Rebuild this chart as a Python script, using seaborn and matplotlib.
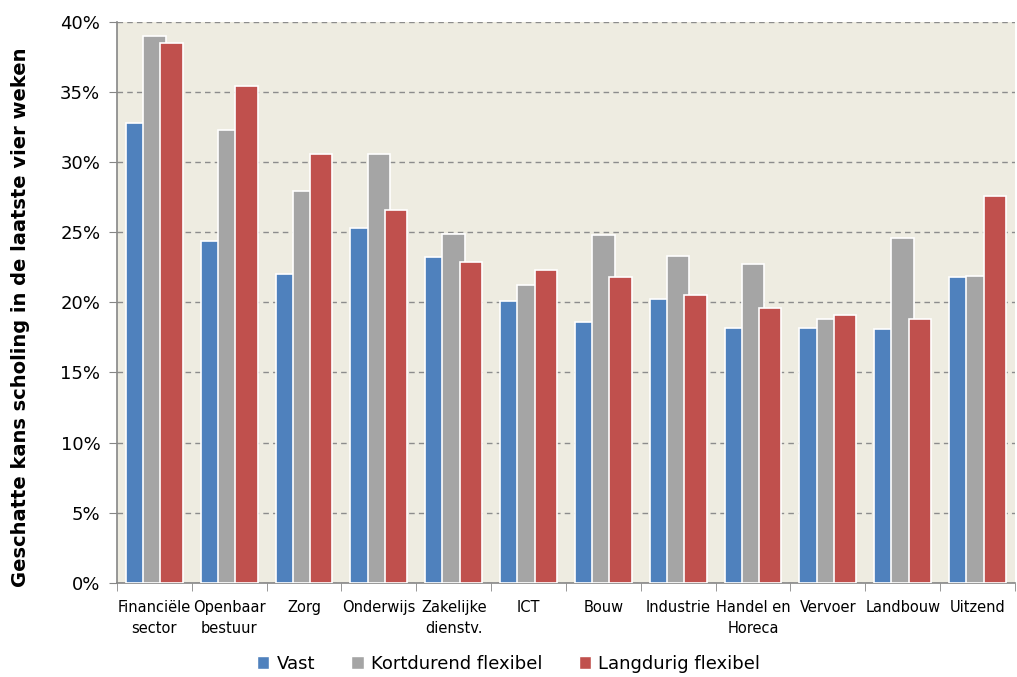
import numpy as np
import pandas as pd
import matplotlib
matplotlib.use("Agg")
import matplotlib.pyplot as plt
import seaborn as sns
from matplotlib.patches import Patch
from matplotlib.ticker import FuncFormatter, MultipleLocator, FixedLocator

# ── Data ────────────────────────────────────────────────────
sectors = ["Financiële\nsector", "Openbaar\nbestuur", "Zorg", "Onderwijs",
           "Zakelijke\ndienstv.", "ICT", "Bouw", "Industrie",
           "Handel en\nHoreca", "Vervoer", "Landbouw", "Uitzend"]
series = ["Vast", "Kortdurend flexibel", "Langdurig flexibel"]
vast = [32.8, 24.4, 22.0, 25.3, 23.2, 20.1, 18.6, 20.2, 18.2, 18.2, 18.1, 21.8]
kortdurend = [39.0, 32.3, 27.9, 30.6, 24.9, 21.2, 24.8, 23.3, 22.7, 18.8, 24.6, 21.9]
langdurig = [38.5, 35.4, 30.6, 26.6, 22.9, 22.3, 21.8, 20.5, 19.6, 19.1, 18.8, 27.6]

COLORS = ["#4F81BD", "#A5A5A5", "#C0504D"]
BG = "#EEECE1"

df = pd.DataFrame({
    "sector": sectors * 3,
    "serie": np.repeat(series, len(sectors)),
    "waarde": vast + kortdurend + langdurig,
})

# ── Style ───────────────────────────────────────────────────
sns.set_style("white")
plt.rcParams["font.family"] = ["DejaVu Sans"]
plt.rcParams.update({"text.color": "black", "axes.labelcolor": "black",
                     "xtick.color": "black", "ytick.color": "black"})

fig = plt.figure(figsize=(10.17, 6.77), dpi=100)
ax = fig.add_axes([0.115, 0.139, 0.883, 0.829])
ax.set_facecolor(BG)

sns.barplot(data=df, x="sector", y="waarde", hue="serie",
            hue_order=series, order=sectors, palette=COLORS, saturation=1,
            width=0.69, edgecolor="white", linewidth=1.2,
            legend=False, ax=ax, zorder=3)

# widen bars so neighbours overlap slightly
for cont in ax.containers:
    for bar in cont:
        cx = bar.get_x() + bar.get_width() / 2
        bar.set_width(0.30)
        bar.set_x(cx - 0.15)

ax.set_xlim(-0.5, len(sectors) - 0.5)
ax.set_ylim(0, 40)
ax.yaxis.set_major_locator(MultipleLocator(5))
ax.yaxis.set_major_formatter(FuncFormatter(lambda v, _: f"{v:.0f}%"))
ax.grid(axis="y", color="#8C8C8C", linestyle=(0, (4, 3)), linewidth=1.0, zorder=0)
ax.set_axisbelow(True)

for s in ["top", "right"]:
    ax.spines[s].set_visible(False)
for s in ["left", "bottom"]:
    ax.spines[s].set_color("#868686")
    ax.spines[s].set_linewidth(1.2)

ax.tick_params(axis="y", which="major", left=True, length=6, color="#868686",
               labelsize=13, pad=6)
ax.tick_params(axis="x", which="major", length=0, labelsize=10.5, pad=12)
for lbl in ax.get_xticklabels():
    lbl.set_linespacing(1.55)
ax.xaxis.set_minor_locator(FixedLocator(np.arange(-0.5, len(sectors), 1)))
ax.tick_params(axis="x", which="minor", bottom=True, length=6, color="#868686")

ax.set_xlabel("")
ax.set_ylabel("Geschatte kans scholing in de laatste vier weken",
              fontsize=14, fontweight="bold")
ax.yaxis.set_label_coords(-0.097, 0.474)

handles = [Patch(facecolor=c, edgecolor="white") for c in COLORS]
fig.legend(handles, series, loc="lower center", bbox_to_anchor=(0.5, -0.018),
           ncol=3, frameon=False, fontsize=13, handlelength=0.7,
           handleheight=0.7, columnspacing=2.0, handletextpad=0.4)

fig.savefig("out.png", dpi=100)
plt.close(fig)
